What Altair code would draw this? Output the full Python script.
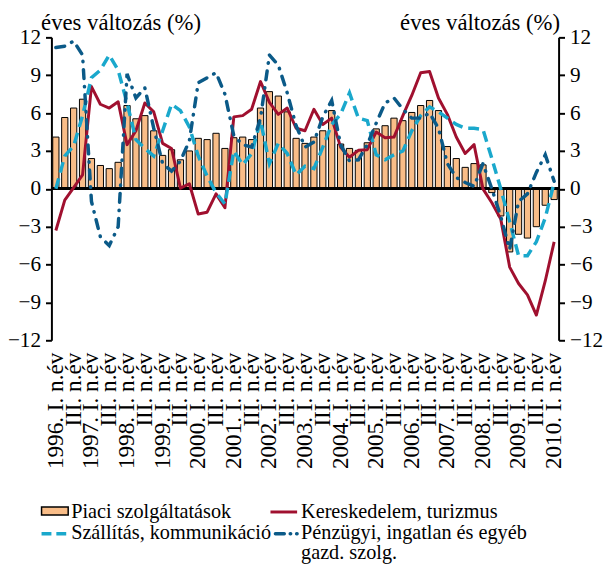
import json
import altair as alt
import pandas as pd

# ---- data -------------------------------------------------------------
years = list(range(1996, 2011))
quarter_tags = ["I. n.év", "", "III. n.év", ""]
n_q = 57  # 1996 Q1 .. 2010 Q1

x_labels = []
for i in range(n_q):
    yr = years[i // 4]
    q = i % 4
    if q == 0:
        x_labels.append(f"{yr}. {quarter_tags[0]}")
    else:
        x_labels.append(quarter_tags[q])

series_names = [
    "Piaci szolgáltatások",
    "Kereskedelem, turizmus",
    "Szállítás, kommunikáció",
    "Pénzügyi, ingatlan és egyéb\ngazd. szolg.",
]

piaci = [4.1, 5.65, 6.4, 7.1, 2.4, 1.85, 1.6, 2.1, 6.6, 5.55, 5.8, 4.6, 2.65, 3.1, 2.3, 3.0,
         4.0, 3.9, 4.4, 3.2, 4.05, 4.1, 3.9, 6.4, 7.7, 7.35, 6.1, 4.0, 3.6, 4.1, 4.6, 6.2,
         3.55, 3.2, 3.05, 3.65, 4.75, 5.0, 5.6, 5.4, 6.05, 6.6, 7.0, 6.2, 3.35, 2.4, 1.7, 2.0,
         1.9, -0.3, -2.15, -5.0, -3.6, -3.9, -3.0, -1.3, -0.85]

kereskedelem = [-3.3, -0.9, 0.1, 1.1, 8.1, 6.7, 6.4, 6.9, 3.5, 4.6, 6.8, 6.1, 3.6, 3.2, 0.05, 0.4,
                -2.0, -1.85, -0.4, -1.5, 5.7, 5.8, 6.3, 8.5, 6.85, 5.9, 6.4, 4.8, 4.6, 6.3, 5.1, 5.6,
                3.3, 2.5, 3.05, 3.1, 4.5, 4.05, 4.1, 5.8, 7.4, 9.2, 9.3, 7.2, 5.9, 4.1, 2.8, 3.5,
                0.0, -1.1, -2.4, -6.2, -7.5, -8.4, -10.0, -7.3, -4.2]

szallitas = [0.0, 2.6, 3.4, 5.8, 8.8, 9.4, 10.6, 9.4, 6.8, 3.9, 3.2, 2.6, 4.6, 6.7, 6.2, 4.9,
             2.6, 1.0, -0.3, -1.2, 3.0, 1.9, 2.8, 5.4, 2.0, 3.6, 2.8, 1.1, 1.8, 1.6, 3.3, 5.1,
             5.9, 7.6, 5.6, 5.4, 2.7, 2.3, 2.7, 3.0, 4.6, 5.8, 6.5, 6.1, 5.6, 5.1, 4.8, 4.8,
             4.7, 2.4, 0.0, -2.6, -5.3, -5.3, -4.2, -2.3, 0.5]

penzugyi = [11.2, 11.3, 11.7, 10.6, -1.0, -3.8, -4.5, -3.0, 9.1, 7.2, 8.0, 4.8, 2.0, 1.4, 2.2, 3.8,
            8.4, 8.8, 9.2, 7.5, 4.2, 3.5, 3.3, 5.6, 10.6, 9.8, 7.6, 5.0, 3.3, 3.7, 5.7, 7.0,
            3.5, 2.2, 2.3, 3.5, 5.2, 6.8, 7.2, 6.3, 5.6, 5.6, 6.0, 4.8, 2.0, 0.9, 0.5, 0.2,
            2.0, 0.0, -2.2, -4.8, -1.0, -0.4, 1.3, 2.7, 0.6]

y_ticks = [-12, -9, -6, -3, 0, 3, 6, 9, 12]

df = pd.DataFrame({
    "q": list(range(n_q)),
    "piaci": piaci,
    "ker": kereskedelem,
    "szall": szallitas,
    "penz": penzugyi,
})

# ---- style ------------------------------------------------------------
FONT = "Liberation Serif"
FS_TICK = 21.5
FS_TITLE = 23
FS_X = 23.5
FS_LEG = 20.5
BAR_FILL = "#F9BD88"
RED = "#A0102F"
CYAN = "#1AA8CC"
DBLUE = "#0B5A88"
DASH_C = [11, 6]
DASH_B = [9, 8, 0.5, 8]

yscale = alt.Scale(domain=[-12, 12], nice=False, zero=False)

label_expr = json.dumps(x_labels, ensure_ascii=False) + "[datum.value]"

x_enc = alt.X(
    "q:O",
    scale=alt.Scale(paddingInner=0.3, paddingOuter=0.15),
    axis=alt.Axis(
        title=None, labelExpr=label_expr, labelAngle=270, domain=False,
        ticks=False, tickSize=0, labelPadding=12, labelFont=FONT,
        labelFontSize=FS_X, labelColor="black", labelOverlap=False,
        labelBound=False, labelFlush=False,
    ),
)

def y_axis(orient):
    return alt.Axis(
        orient=orient, values=y_ticks, grid=False, domainColor="black",
        domainWidth=2, tickColor="black", tickWidth=2, tickSize=6,
        labelFont=FONT, labelFontSize=FS_TICK, labelColor="black", labelPadding=5,
        title="éves változás (%)", titleAngle=0, titleFont=FONT,
        titleFontSize=FS_TITLE, titleFontWeight="normal", titleColor="black",
        titleAlign="left" if orient == "left" else "right",
        titleBaseline="alphabetic",
        titleX=-11 if orient == "left" else 1,
        titleY=-8,
    )

base = alt.Chart(df)

bars = base.mark_bar(fill=BAR_FILL, stroke="black", strokeWidth=1).encode(
    x=x_enc, y=alt.Y("piaci:Q", scale=yscale, axis=y_axis("left"))
)

zero = base.mark_rule(color="black", strokeWidth=2.5).encode(
    y=alt.Y(datum=0, scale=yscale, axis=y_axis("right"))
)

red = base.mark_line(color=RED, strokeWidth=3, strokeJoin="round").encode(
    x=x_enc, y=alt.Y("ker:Q", scale=yscale, axis=None)
)
cyan = base.mark_line(color=CYAN, strokeWidth=3.5, strokeDash=DASH_C).encode(
    x=x_enc, y=alt.Y("szall:Q", scale=yscale, axis=None)
)
blue = base.mark_line(color=DBLUE, strokeWidth=3.5, strokeDash=DASH_B,
                      strokeCap="round").encode(
    x=x_enc, y=alt.Y("penz:Q", scale=yscale, axis=None)
)

# ---- legend (drawn below the plot) ------------------------------------
def leg_text(name, x, y):
    return alt.Chart(pd.DataFrame({"t": [name]})).mark_text(
        align="left", baseline="alphabetic", font=FONT, fontSize=FS_LEG,
        color="black",
    ).encode(x=alt.value(x), y=alt.value(y), text="t:N")

row1, row2, row3 = 487, 508, 529
col1_x, col2_x = -10, 222
txt1_x, txt2_x = 20, 253
one = pd.DataFrame({"a": [0]})
last_lines = series_names[3].split("\n")

leg_bar = alt.Chart(one).mark_rect(fill=BAR_FILL, stroke="black", strokeWidth=1.5).encode(
    x=alt.value(col1_x), x2=alt.value(col1_x + 27),
    y=alt.value(row1 - 11), y2=alt.value(row1 - 3),
)
leg_red = alt.Chart(one).mark_rule(color=RED, strokeWidth=3).encode(
    x=alt.value(col2_x), x2=alt.value(col2_x + 27), y=alt.value(row1 - 6),
)
leg_cyan = alt.Chart(one).mark_rule(color=CYAN, strokeWidth=3.5, strokeDash=[10, 5]).encode(
    x=alt.value(col1_x), x2=alt.value(col1_x + 27), y=alt.value(row2 - 5),
)
leg_blue = alt.Chart(one).mark_rule(color=DBLUE, strokeWidth=3.5, strokeDash=[9, 6, 0.5, 6],
                                    strokeCap="round").encode(
    x=alt.value(col2_x + 5), x2=alt.value(col2_x + 27), y=alt.value(row2 - 5),
)

chart = alt.layer(
    bars, zero, red, cyan, blue,
    leg_bar, leg_red, leg_cyan, leg_blue,
    leg_text(series_names[0], txt1_x, row1),
    leg_text(series_names[1], txt2_x, row1),
    leg_text(series_names[2], txt1_x, row2),
    leg_text(last_lines[0], txt2_x, row2),
    leg_text(last_lines[1], txt2_x, row3),
).resolve_scale(y="independent").properties(
    width=514, height=307,
    padding={"left": 44, "top": 26, "right": 45, "bottom": 226},
    autosize=alt.AutoSizeParams(type="none"),
).configure_view(stroke=None)

chart.save("out.html", embed_options={"renderer": "svg", "actions": False})
